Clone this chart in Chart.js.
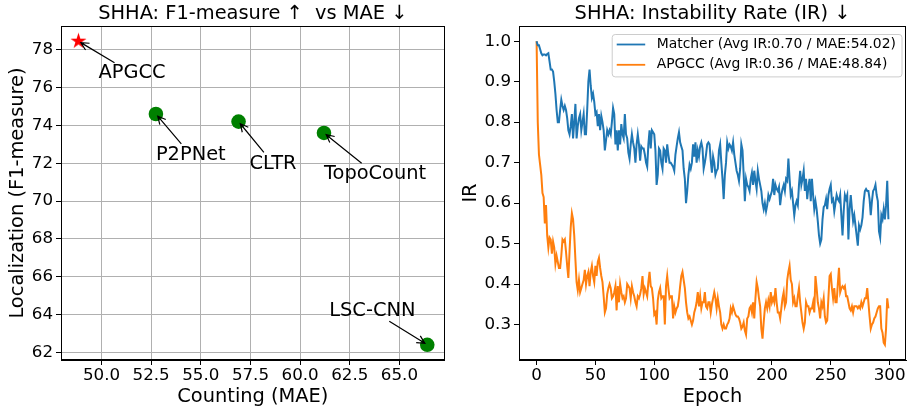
<!DOCTYPE html>
<html>
<head>
<meta charset="utf-8">
<script src="https://cdn.jsdelivr.net/npm/chart.js@4"></script>
<style>
  html, body { margin: 0; padding: 0; background: #fff; }
  #wrap { position: relative; width: 907px; height: 409px; overflow: hidden; }
  canvas { position: absolute; top: 0; }
  #scatterChart { left: 0; }
  #irChart { left: 452px; }
</style>
</head>
<body>
<div id="wrap">
  <canvas id="scatterChart" width="452" height="409"></canvas>
  <canvas id="irChart" width="455" height="409"></canvas>
</div>
<script>
// left panel: F1 vs MAE
const methods = ['APGCC', 'P2PNet', 'CLTR', 'TopoCount', 'LSC-CNN'];
const maeValues = [48.84, 52.74, 56.9, 61.2, 66.4];
const f1Values = [78.45, 74.6, 74.2, 73.6, 62.4];
const scatterXTicks = [50, 52.5, 55, 57.5, 60, 62.5, 65];
const scatterYTicks = [62, 64, 66, 68, 70, 72, 74, 76, 78];

// right panel: instability rate per epoch
const seriesNames = ['Matcher (Avg IR:0.70 / MAE:54.02)', 'APGCC (Avg IR:0.36 / MAE:48.84)'];
const matcherIR = [
  1.0, 0.99, 0.99, 0.98, 0.97, 0.965, 0.967, 0.967, 0.965, 0.968,
  0.97, 0.95, 0.93, 0.93, 0.925, 0.90, 0.87, 0.83, 0.80, 0.80,
  0.83, 0.855, 0.84, 0.83, 0.84, 0.83, 0.81, 0.78, 0.77, 0.79,
  0.82, 0.76, 0.80, 0.845, 0.76, 0.79, 0.81, 0.82, 0.78, 0.80,
  0.82, 0.77, 0.77, 0.83, 0.90, 0.93, 0.89, 0.86, 0.87, 0.85,
  0.82, 0.825, 0.79, 0.82, 0.78, 0.815, 0.80, 0.78, 0.73, 0.755,
  0.78, 0.77, 0.78, 0.77, 0.80, 0.835, 0.82, 0.745, 0.78, 0.73,
  0.78, 0.745, 0.795, 0.77, 0.76, 0.82, 0.77, 0.76, 0.725, 0.71,
  0.745, 0.77, 0.75, 0.735, 0.70, 0.745, 0.77, 0.745, 0.705, 0.74,
  0.735, 0.735, 0.72, 0.70, 0.69, 0.745, 0.78, 0.735, 0.78, 0.775,
  0.77, 0.73, 0.645, 0.67, 0.735, 0.73, 0.70, 0.685, 0.735, 0.73,
  0.70, 0.745, 0.72, 0.70, 0.70, 0.695, 0.69, 0.68, 0.72, 0.74,
  0.76, 0.775, 0.75, 0.74, 0.73, 0.685, 0.66, 0.60, 0.63, 0.67,
  0.695, 0.685, 0.70, 0.745, 0.715, 0.75, 0.70, 0.73, 0.715, 0.74,
  0.75, 0.735, 0.685, 0.70, 0.72, 0.745, 0.75, 0.745, 0.705, 0.675,
  0.715, 0.70, 0.67, 0.68, 0.685, 0.73, 0.745, 0.70, 0.66, 0.61,
  0.67, 0.70, 0.75, 0.735, 0.745, 0.74, 0.73, 0.75, 0.72, 0.70,
  0.68, 0.67, 0.655, 0.685, 0.745, 0.73, 0.67, 0.605, 0.66, 0.645,
  0.64, 0.63, 0.66, 0.675, 0.645, 0.68, 0.655, 0.635, 0.68, 0.66,
  0.645, 0.63, 0.60, 0.585, 0.60, 0.58, 0.595, 0.62, 0.61, 0.62,
  0.63, 0.66, 0.62, 0.645, 0.635, 0.63, 0.64, 0.595, 0.62, 0.635,
  0.645, 0.63, 0.66, 0.655, 0.71, 0.66, 0.62, 0.63, 0.60, 0.57,
  0.595, 0.605, 0.595, 0.645, 0.68, 0.645, 0.66, 0.68, 0.63, 0.66,
  0.61, 0.64, 0.66, 0.605, 0.66, 0.62, 0.585, 0.605, 0.585, 0.555,
  0.52, 0.50, 0.51, 0.56, 0.59, 0.595, 0.61, 0.585, 0.62, 0.635,
  0.645, 0.605, 0.61, 0.58, 0.60, 0.62, 0.61, 0.605, 0.62, 0.57,
  0.52, 0.58, 0.62, 0.61, 0.62, 0.51, 0.585, 0.62, 0.585, 0.555,
  0.57, 0.545, 0.52, 0.495, 0.545, 0.535, 0.545, 0.565, 0.605, 0.63,
  0.635, 0.63, 0.63, 0.61, 0.57, 0.605, 0.63, 0.635, 0.645, 0.62,
  0.605, 0.53, 0.515, 0.57, 0.56, 0.585, 0.56, 0.595, 0.655, 0.56
];
const apgccIR = [
  1.0, 0.80, 0.72, 0.695, 0.67, 0.625, 0.615, 0.55, 0.595, 0.52,
  0.49, 0.515, 0.51, 0.475, 0.505, 0.49, 0.45, 0.47, 0.455, 0.44,
  0.44, 0.47, 0.51, 0.505, 0.51, 0.48, 0.445, 0.415, 0.48, 0.54,
  0.575, 0.56, 0.52, 0.46, 0.405, 0.385, 0.41, 0.38, 0.39, 0.40,
  0.41, 0.435, 0.40, 0.42, 0.43, 0.395, 0.43, 0.445, 0.42, 0.405,
  0.445, 0.42, 0.455, 0.465, 0.44, 0.42, 0.405, 0.37, 0.33, 0.34,
  0.375, 0.39, 0.40, 0.39, 0.365, 0.37, 0.38, 0.395, 0.335, 0.395,
  0.355, 0.40, 0.38, 0.365, 0.37, 0.355, 0.365, 0.40, 0.395, 0.39,
  0.365, 0.395, 0.38, 0.37, 0.355, 0.345, 0.37, 0.365, 0.375, 0.39,
  0.42, 0.375, 0.39, 0.38, 0.37, 0.405, 0.43, 0.395, 0.39, 0.365,
  0.325, 0.33, 0.30, 0.36, 0.38, 0.39, 0.365, 0.37, 0.37, 0.30,
  0.395, 0.42, 0.39, 0.365, 0.37, 0.37, 0.315, 0.345, 0.33, 0.34,
  0.345, 0.365, 0.395, 0.42, 0.43, 0.41, 0.39, 0.355, 0.33, 0.315,
  0.32, 0.31, 0.30, 0.31, 0.33, 0.34, 0.355, 0.38, 0.345, 0.37,
  0.34, 0.355, 0.355, 0.38, 0.345, 0.34, 0.355, 0.355, 0.33, 0.35,
  0.365, 0.38, 0.365, 0.34, 0.365, 0.345, 0.33, 0.30, 0.29, 0.30,
  0.29, 0.29, 0.30, 0.305, 0.315, 0.34, 0.33, 0.345, 0.335, 0.325,
  0.32, 0.32, 0.315, 0.305, 0.29, 0.295, 0.305, 0.285, 0.275, 0.315,
  0.32, 0.34, 0.345, 0.33, 0.355, 0.315, 0.365, 0.405, 0.39, 0.365,
  0.345, 0.29, 0.265, 0.305, 0.34, 0.355, 0.34, 0.36, 0.345, 0.38,
  0.355, 0.365, 0.355, 0.39, 0.355, 0.33, 0.33, 0.315, 0.34, 0.365,
  0.38, 0.345, 0.355, 0.41, 0.43, 0.445, 0.41, 0.40, 0.355, 0.365,
  0.345, 0.345, 0.37, 0.39, 0.355, 0.33, 0.305, 0.29, 0.305, 0.355,
  0.345, 0.345, 0.33, 0.34, 0.34, 0.355, 0.33, 0.42, 0.39, 0.355,
  0.34, 0.315, 0.355, 0.345, 0.365, 0.32, 0.305, 0.31, 0.365, 0.42,
  0.425, 0.39, 0.365, 0.39, 0.355, 0.355, 0.40, 0.44, 0.38, 0.39,
  0.395, 0.39, 0.395, 0.37, 0.37, 0.355, 0.34, 0.335, 0.345, 0.33,
  0.345, 0.345, 0.345, 0.34, 0.345, 0.34, 0.355, 0.345, 0.355, 0.365,
  0.365, 0.39, 0.355, 0.32, 0.29, 0.30, 0.305, 0.315, 0.32, 0.33,
  0.34, 0.345, 0.345, 0.29, 0.28, 0.255, 0.25, 0.29, 0.365, 0.34
];
const epochTicks = [0, 50, 100, 150, 200, 250, 300];
const irTicks = [0.3, 0.4, 0.5, 0.6, 0.7, 0.8, 0.9, 1.0];

const FONT = 'DejaVu Sans';
const TICK_SIZE = 16.7;
const LABEL_SIZE = 19.4;
const LEGEND_SIZE = 13.9;

Chart.defaults.font.family = FONT;
Chart.defaults.color = '#000';

// matplotlib-like 5% margins
function padRange(arr) {
  let lo = Math.min(...arr), hi = Math.max(...arr);
  let m = (hi - lo) * 0.05;
  return [lo - m, hi + m];
}

function makeStar(r, color) {
  let c = document.createElement('canvas');
  let s = Math.ceil(r * 2 + 2);
  c.width = s;
  c.height = s;
  let g = c.getContext('2d');
  g.beginPath();
  for (let i = 0; i < 10; i++) {
    let rad = i % 2 === 0 ? r : r * 0.382;
    let a = -Math.PI / 2 + i * Math.PI / 5;
    g.lineTo(s / 2 + rad * Math.cos(a), s / 2 + rad * Math.sin(a));
  }
  g.closePath();
  g.fillStyle = color;
  g.fill();
  return c;
}

// frame on all four sides + centered title over the plot area
const framePlugin = {
  id: 'frame',
  afterDraw(chart, args, opts) {
    let a = chart.chartArea, ctx = chart.ctx;
    ctx.save();
    ctx.strokeStyle = '#000';
    ctx.lineWidth = 1;
    let l = Math.round(a.left) + 0.5, t = Math.round(a.top) + 0.5;
    let r = Math.round(a.right) - 0.5, b = Math.round(a.bottom) - 0.5;
    ctx.strokeRect(l, t, r - l, b - t);
    ctx.font = LABEL_SIZE + 'px "' + FONT + '"';
    ctx.fillStyle = '#000';
    ctx.textAlign = 'center';
    ctx.textBaseline = 'middle';
    ctx.fillText(opts.text, (a.left + a.right) / 2, 14);
    ctx.restore();
  }
};

// text labels with arrows pointing at each method
const labelOffsets = {
  'APGCC': [20, 32],
  'P2PNet': [0, 41],
  'CLTR': [11, 42],
  'TopoCount': [0, 41],
  'LSC-CNN': [-98, -34]
};

const annotatePlugin = {
  id: 'annotate',
  afterDatasetsDraw(chart) {
    let ctx = chart.ctx;
    let xs = chart.scales.x, ys = chart.scales.y;
    ctx.save();
    ctx.font = LABEL_SIZE + 'px "' + FONT + '"';
    ctx.textAlign = 'left';
    ctx.textBaseline = 'middle';
    ctx.fillStyle = '#000';
    ctx.strokeStyle = '#000';
    ctx.lineWidth = 1.2;
    methods.forEach((name, i) => {
      let px = xs.getPixelForValue(maeValues[i]);
      let py = ys.getPixelForValue(f1Values[i]);
      let off = labelOffsets[name];
      let tx = px + off[0], ty = py + off[1];
      ctx.fillText(name, tx, ty);
      let w = ctx.measureText(name).width;
      let cx = tx + w / 2, cy = ty;
      let dx = px - cx, dy = py - cy;
      let len = Math.hypot(dx, dy);
      let ux = dx / len, uy = dy / len;
      let t = Math.min(Math.abs(dx) > 0 ? (w / 2) / Math.abs(dx) : 1e9,
                       Math.abs(dy) > 0 ? 9 / Math.abs(dy) : 1e9);
      let sx = cx + dx * t + ux * 2.8, sy = cy + dy * t + uy * 2.8;
      let ex = px - ux * 2.8, ey = py - uy * 2.8;
      ctx.beginPath();
      ctx.moveTo(sx, sy);
      ctx.lineTo(ex, ey);
      let hl = 7.8, hw = 3.9;
      ctx.moveTo(ex - ux * hl - uy * hw, ey - uy * hl + ux * hw);
      ctx.lineTo(ex, ey);
      ctx.lineTo(ex - ux * hl + uy * hw, ey - uy * hl - ux * hw);
      ctx.stroke();
    });
    ctx.restore();
  }
};

// matplotlib style legend in the upper right of the plot area
const legendPlugin = {
  id: 'mplLegend',
  afterDraw(chart) {
    let ctx = chart.ctx, a = chart.chartArea;
    let sets = chart.data.datasets;
    ctx.save();
    ctx.font = LEGEND_SIZE + 'px "' + FONT + '"';
    let tw = Math.max(...sets.map(d => ctx.measureText(d.label).width));
    let padL = 5, padR = 5.6, handle = 28.5, gap = 11.5, rowH = 20.3;
    let bw = padL + handle + gap + tw + padR;
    let bh = 42.4;
    let bx = a.right - 4.5 - bw, by = a.top + 8;
    ctx.beginPath();
    ctx.roundRect(bx + 0.5, by + 0.5, bw, bh, 3);
    ctx.fillStyle = 'rgba(255,255,255,0.8)';
    ctx.fill();
    ctx.strokeStyle = '#cccccc';
    ctx.lineWidth = 1;
    ctx.stroke();
    ctx.textAlign = 'left';
    ctx.textBaseline = 'middle';
    sets.forEach((d, i) => {
      let yy = by + 10.5 + i * rowH;
      ctx.strokeStyle = d.borderColor;
      ctx.lineWidth = 1.8;
      ctx.beginPath();
      ctx.moveTo(bx + padL, yy);
      ctx.lineTo(bx + padL + handle, yy);
      ctx.stroke();
      ctx.fillStyle = '#000';
      ctx.fillText(d.label, bx + padL + handle + gap, yy);
    });
    ctx.restore();
  }
};

function axisBase(tickList, fmt, showGrid, pad) {
  return {
    type: 'linear',
    afterBuildTicks: s => { s.ticks = tickList.map(v => ({ value: v })); },
    ticks: {
      autoSkip: false,
      maxRotation: 0,
      padding: pad,
      font: { size: TICK_SIZE },
      color: '#000',
      callback: fmt
    },
    grid: {
      display: true,
      drawOnChartArea: showGrid,
      color: '#b0b0b0',
      lineWidth: 1,
      tickColor: '#000',
      tickLength: 5
    },
    border: { display: true, color: '#000', width: 1 }
  };
}

// ---- left chart ----
let xr = padRange(maeValues);
let yr = padRange(f1Values);
let star = makeStar(8.4, '#ff0000');

let sx = axisBase(scatterXTicks, v => v.toFixed(1), true, 1);
sx.min = xr[0];
sx.max = xr[1];
sx.title = { display: true, text: 'Counting (MAE)', font: { size: LABEL_SIZE }, padding: { top: 0, bottom: 0 } };
sx.afterFit = s => { s.height = 49; };

let sy = axisBase(scatterYTicks, v => String(v), true, 3);
sy.min = yr[0];
sy.max = yr[1];
sy.title = { display: true, text: 'Localization (F1-measure)', font: { size: LABEL_SIZE }, padding: { top: 6.7, bottom: 0 } };
sy.afterFit = s => { s.width = 61; };

new Chart(document.getElementById('scatterChart'), {
  type: 'scatter',
  data: {
    datasets: [{
      label: 'methods',
      data: methods.map((m, i) => ({ x: maeValues[i], y: f1Values[i] })),
      pointStyle: c => c.dataIndex === 0 ? star : 'circle',
      pointRadius: 7.3,
      backgroundColor: c => c.dataIndex === 0 ? '#ff0000' : '#008000',
      borderWidth: 0
    }]
  },
  options: {
    responsive: false,
    animation: false,
    events: [],
    layout: { padding: { top: 26, right: 2, left: 0, bottom: 0 } },
    plugins: {
      legend: { display: false },
      tooltip: { enabled: false },
      frame: { text: 'SHHA: F1-measure \u2191  vs MAE \u2193' }
    },
    scales: { x: sx, y: sy }
  },
  plugins: [framePlugin, annotatePlugin]
});

// ---- right chart ----
let epochs = matcherIR.map((v, i) => i);
let er = padRange(epochs);
let ir = padRange(matcherIR.concat(apgccIR));

let rx = axisBase(epochTicks, v => String(v), false, 1);
rx.min = er[0];
rx.max = er[1];
rx.title = { display: true, text: 'Epoch', font: { size: LABEL_SIZE }, padding: { top: 0, bottom: 0 } };
rx.afterFit = s => { s.height = 49; };

let ry = axisBase(irTicks, v => v.toFixed(1), false, 3);
ry.min = ir[0];
ry.max = ir[1];
ry.title = { display: true, text: 'IR', font: { size: LABEL_SIZE }, padding: { top: 7, bottom: 0 } };
ry.afterFit = s => { s.width = 67; };

new Chart(document.getElementById('irChart'), {
  type: 'line',
  data: {
    datasets: [
      {
        label: seriesNames[0],
        data: epochs.map(e => ({ x: e, y: matcherIR[e] })),
        borderColor: '#1f77b4',
        borderWidth: 2,
        pointRadius: 0,
        tension: 0,
        fill: false
      },
      {
        label: seriesNames[1],
        data: epochs.map(e => ({ x: e, y: apgccIR[e] })),
        borderColor: '#ff7f0e',
        borderWidth: 2,
        pointRadius: 0,
        tension: 0,
        fill: false
      }
    ]
  },
  options: {
    responsive: false,
    animation: false,
    events: [],
    layout: { padding: { top: 26, right: 1, left: 0, bottom: 0 } },
    plugins: {
      legend: { display: false },
      tooltip: { enabled: false },
      frame: { text: 'SHHA: Instability Rate (IR) \u2193' }
    },
    scales: { x: rx, y: ry }
  },
  plugins: [framePlugin, legendPlugin]
});
</script>
</body>
</html>
